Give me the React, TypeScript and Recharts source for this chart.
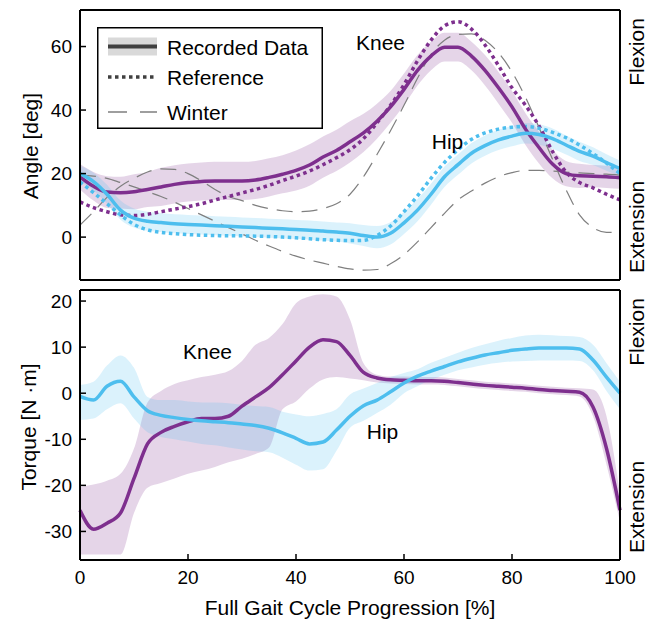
import { Area, ComposedChart, Line, XAxis, YAxis } from "recharts";

const PURPLE = "#7E2F8E";
const BLUE = "#4DBEEE";
const GREY = "#7f7f7f";

// gait cycle, percent
const pct = [0, 2.5, 5, 7.5, 10, 12.5, 15, 17.5, 20, 22.5, 25, 27.5, 30, 32.5, 35, 37.5, 40, 42.5, 45, 47.5, 50, 52.5, 55, 57.5, 60, 62.5, 65, 67.5, 70, 72.5, 75, 77.5, 80, 82.5, 85, 87.5, 90, 92.5, 95, 97.5, 100];

// joint angles [deg]
const kneeAngle = [19, 16, 14.2, 14, 14.3, 15, 15.8, 16.6, 17.2, 17.5, 17.7, 17.7, 17.7, 18, 18.8, 19.8, 21, 22.7, 25.2, 27.3, 30, 32.8, 36.5, 41, 46.5, 52.5, 57, 59.8, 59.8, 57, 52.5, 47, 41, 34, 28.2, 23, 20, 19.3, 19.2, 19, 18.7];
const kneeAngleSd = [4, 4.5, 5, 5, 5.5, 5.5, 6, 6, 6, 6, 6, 6, 6, 6, 6, 6, 6.3, 6.5, 6.5, 6.5, 6.5, 6, 5.5, 5, 5, 4.8, 4.5, 4.5, 4.5, 4.5, 4.8, 5, 5, 5, 5, 4.5, 4, 3.8, 3.5, 3.5, 3.5];
const kneeAngleRef = [11.1, 9.3, 8, 7, 6.8, 7.2, 8, 8.8, 9.6, 10.5, 11.7, 12.8, 13.9, 15, 16.3, 17.8, 19.2, 20.8, 22.8, 25, 27.5, 31, 36, 41.5, 48, 55.5, 62, 66.5, 67.8, 65.5, 60.5, 54, 47, 41.5, 35, 27, 20.5, 17.2, 15.5, 13.5, 11.7];
const kneeAngleWinter = [3.8, 8, 12.5, 16, 18.5, 20.5, 21.5, 21.3, 20, 17.7, 15, 12.8, 11.5, 10, 9, 8.3, 8, 8.2, 9, 10.5, 13.5, 19, 26, 33.5, 41.5, 50, 57.5, 62, 63.8, 64, 62, 58, 52, 44, 34.5, 24.5, 15, 7, 3, 1.5, 1.6];
const hipAngle = [20, 17.5, 13.5, 8.5, 6, 5, 4.6, 4.2, 4, 3.8, 3.6, 3.4, 3.2, 3, 2.8, 2.6, 2.4, 2.2, 1.9, 1.6, 1.2, 0.5, 0, 1.2, 4.5, 8.5, 13.5, 19, 22.8, 26.4, 28.8, 30.6, 31.8, 32.7, 32.3, 31, 29, 27, 25.5, 23.5, 21.6];
const hipAngleSd = [2.5, 2.8, 3, 3, 3, 3, 3, 3, 3, 3, 3, 3, 3, 3, 3, 3, 3, 3, 3, 3, 3.2, 3.3, 3.5, 3.5, 3.5, 3.5, 3.3, 3.2, 3.2, 3.2, 3.2, 3.2, 3.2, 3.2, 3.2, 3.2, 3, 3, 2.8, 2.6, 2.5];
const hipAngleRef = [17.4, 14, 10.5, 7, 4, 2.3, 1.5, 1.1, 0.8, 0.6, 0.5, 0.4, 0.4, 0.3, 0.2, 0, -0.2, -0.5, -0.8, -1, -1.1, -1, 0.5, 3.5, 8, 13, 18.5, 23.5, 27.5, 30.8, 32.8, 34, 34.6, 34.8, 34.3, 33, 31.3, 29, 26.3, 23.3, 20];
const hipAngleWinter = [19.5, 19.2, 18.5, 17.2, 15.8, 14.3, 12.8, 11, 9, 7, 5, 3, 1, -1, -2.8, -4.5, -6, -7.2, -8.2, -9.2, -10, -10.4, -10.2, -8.4, -5.5, -1.5, 3, 7.5, 11.7, 14.5, 17, 19, 20.3, 21, 21, 20.8, 20.5, 20.2, 20, 19.8, 19.5];

// joint torques [N·m]
const kneeTorque = [-25.4, -29.5, -28.2, -26, -18.5, -11, -8.5, -7.2, -6.2, -5.5, -5.5, -5, -2.8, -0.8, 1.2, 4, 7, 10, 11.6, 11.2, 8.2, 4.5, 3.3, 2.9, 2.8, 2.7, 2.7, 2.6, 2.3, 2, 1.7, 1.5, 1.3, 1.1, 0.8, 0.6, 0.4, 0.2, -3, -12, -25.4];
const kneeTorqueLo = [-35, -35, -35, -35, -26, -20.5, -19.5, -18.5, -17.5, -16.8, -16, -15, -14.2, -13.2, -11.8, -3.5, -1.8, 1, 3, 3.5, 3.2, 2.8, 2.3, 2.1, 2, 1.9, 1.9, 1.8, 1.5, 1.2, 0.9, 0.7, 0.5, 0.3, 0, -0.2, -0.4, -0.7, -5, -15.5, -28];
const kneeTorqueHi = [-20.3, -19.8, -19, -17.5, -12, -2, 0.5, 2, 2.8, 3.5, 4, 4.8, 7, 10.5, 12, 15, 19.5, 21, 21.5, 21, 16, 6.5, 4, 3.6, 3.6, 3.5, 3.5, 3.4, 3.1, 2.8, 2.5, 2.3, 2.1, 1.9, 1.6, 1.4, 1.2, 1.1, 0.8, -5, -22];
const hipTorque = [-0.7, -1.5, 1.5, 2.6, -0.8, -3.8, -4.8, -5.3, -5.7, -6, -6.2, -6.4, -6.7, -7, -7.6, -8.6, -9.8, -11, -10.6, -8, -5, -2.7, -1.5, 0.3, 2.2, 3.7, 4.8, 5.8, 6.8, 7.6, 8.3, 8.8, 9.3, 9.6, 9.8, 9.8, 9.8, 9.6, 7.2, 3.5, 0];
const hipTorqueLo = [-5.8, -5.5, -3.5, -2.2, -5.5, -8.5, -9.5, -10, -10.5, -11, -11.3, -11.8, -12.2, -12.6, -12.8, -14, -15.5, -16.8, -16.5, -12.5, -7.5, -6, -4.3, -2.5, 0, 1.5, 2.9, 4, 5, 5.6, 6.2, 6.6, 6.9, 7, 7.1, 7.1, 7.1, 7, 5, 0.5, -3.5];
const hipTorqueHi = [1.8, 2.5, 6, 8.2, 5.5, -0.8, -1.5, -1.5, -1.8, -2, -2, -2.2, -2.5, -2.8, -3, -4, -4.6, -5, -4.5, -3.5, -0.3, 1, 2.2, 3.5, 4.4, 5.2, 6.6, 7.7, 8.8, 9.8, 10.6, 11.4, 12, 12.5, 12.7, 12.6, 12.4, 12.2, 10.5, 6.5, 2.5];

const xTicks = [0, 20, 40, 60, 80, 100];
const angleTicks = [0, 20, 40, 60];
const torqueTicks = [-30, -20, -10, 0, 10, 20];

const angleRows = pct.map((x, i) => ({
  x,
  kneeRec: kneeAngle[i],
  kneeRef: kneeAngleRef[i],
  kneeWin: kneeAngleWinter[i],
  hipRec: hipAngle[i],
  hipRef: hipAngleRef[i],
  hipWin: hipAngleWinter[i],
  kneeBand: [kneeAngle[i] - kneeAngleSd[i], kneeAngle[i] + kneeAngleSd[i]],
  hipBand: [hipAngle[i] - hipAngleSd[i], hipAngle[i] + hipAngleSd[i]],
}));

const torqueRows = pct.map((x, i) => ({
  x,
  knee: kneeTorque[i],
  hip: hipTorque[i],
  kneeBand: [kneeTorqueLo[i], kneeTorqueHi[i]],
  hipBand: [hipTorqueLo[i], hipTorqueHi[i]],
}));

const FONT = "'Liberation Sans', Arial, sans-serif";
const axisLine = { stroke: "#000", strokeWidth: 2 };
const tickLine = { stroke: "#000", strokeWidth: 1.5 };
const tickFont = { fill: "#000", fontSize: 19 };

function Txt({ x, y, children, rotate = false }: { x: number; y: number; children: string; rotate?: boolean }) {
  return (
    <div
      style={{
        position: "absolute",
        left: x,
        top: y,
        fontSize: 21,
        lineHeight: "21px",
        whiteSpace: "nowrap",
        color: "#000",
        transform: `translate(-50%, -50%)${rotate ? " rotate(-90deg)" : ""}`,
      }}
    >
      {children}
    </div>
  );
}

function LegendBox() {
  return (
    <svg width={226} height={102} style={{ position: "absolute", left: 97, top: 27 }}>
      <rect x={0.75} y={0.75} width={224.5} height={100.5} fill="#fff" stroke="#000" strokeWidth={1.5} />
      <rect x={11} y={10.5} width={49} height={18} fill="#d9d9d9" />
      <line x1={11} x2={60} y1={19.5} y2={19.5} stroke="#404040" strokeWidth={4} />
      <line x1={11} x2={60} y1={50} y2={50} stroke="#404040" strokeWidth={3.5} strokeDasharray="3.5 3.5" />
      <line x1={11} x2={60} y1={85} y2={85} stroke={GREY} strokeWidth={1.3} strokeDasharray="19 13" />
      <g fontSize={21} fill="#000">
        <text x={70} y={20.5} dominantBaseline="central">Recorded Data</text>
        <text x={70} y={50.5} dominantBaseline="central">Reference</text>
        <text x={70} y={85} dominantBaseline="central">Winter</text>
      </g>
    </svg>
  );
}

export default function App() {
  return (
    <div style={{ position: "absolute", left: 0, top: 0, width: 662, height: 619, background: "#fff", fontFamily: FONT }}>
      <div style={{ position: "absolute", left: 0, top: 0 }}>
        <ComposedChart width={662} height={290} data={angleRows} margin={{ top: 9, right: 41, bottom: 9, left: 0 }}>
          <XAxis dataKey="x" type="number" domain={[0, 100]} ticks={xTicks} interval={0} height={1} tick={false} tickSize={-6} axisLine={axisLine} tickLine={tickLine} />
          <XAxis xAxisId="top" orientation="top" dataKey="x" type="number" domain={[0, 100]} ticks={xTicks} interval={0} height={1} tick={false} tickSize={-6} axisLine={axisLine} tickLine={tickLine} />
          <YAxis type="number" domain={[-13.5, 71.5]} allowDataOverflow ticks={angleTicks} interval={0} width={80} tick={tickFont} tickSize={-6} tickMargin={14} axisLine={axisLine} tickLine={tickLine} />
          <YAxis yAxisId="right" orientation="right" type="number" domain={[-13.5, 71.5]} allowDataOverflow ticks={angleTicks} interval={0} width={1} tick={false} tickSize={-6} axisLine={axisLine} tickLine={tickLine} />
          <Area dataKey="kneeBand" type="monotone" stroke="none" fill={PURPLE} fillOpacity={0.2} isAnimationActive={false} />
          <Area dataKey="hipBand" type="monotone" stroke="none" fill={BLUE} fillOpacity={0.2} isAnimationActive={false} />
          <Line dataKey="kneeWin" type="monotone" stroke={GREY} strokeWidth={1.2} strokeDasharray="16 9" dot={false} activeDot={false} isAnimationActive={false} />
          <Line dataKey="hipWin" type="monotone" stroke={GREY} strokeWidth={1.2} strokeDasharray="16 9" dot={false} activeDot={false} isAnimationActive={false} />
          <Line dataKey="kneeRef" type="monotone" stroke={PURPLE} strokeWidth={3.5} strokeDasharray="3.5 3.5" dot={false} activeDot={false} isAnimationActive={false} />
          <Line dataKey="hipRef" type="monotone" stroke={BLUE} strokeWidth={3.5} strokeDasharray="3.5 3.5" dot={false} activeDot={false} isAnimationActive={false} />
          <Line dataKey="kneeRec" type="monotone" stroke={PURPLE} strokeWidth={3.5} dot={false} activeDot={false} isAnimationActive={false} />
          <Line dataKey="hipRec" type="monotone" stroke={BLUE} strokeWidth={3.5} dot={false} activeDot={false} isAnimationActive={false} />
        </ComposedChart>
      </div>
      <div style={{ position: "absolute", left: 0, top: 280 }}>
        <ComposedChart width={662} height={339} data={torqueRows} margin={{ top: 9, right: 41, bottom: 0, left: 0 }}>
          <XAxis dataKey="x" type="number" domain={[0, 100]} ticks={xTicks} interval={0} height={59} tick={tickFont} tickSize={-6} tickMargin={17} axisLine={axisLine} tickLine={tickLine} />
          <XAxis xAxisId="top" orientation="top" dataKey="x" type="number" domain={[0, 100]} ticks={xTicks} interval={0} height={1} tick={false} tickSize={-6} axisLine={axisLine} tickLine={tickLine} />
          <YAxis type="number" domain={[-36.2, 22.4]} allowDataOverflow ticks={torqueTicks} interval={0} width={80} tick={tickFont} tickSize={-6} tickMargin={14} axisLine={axisLine} tickLine={tickLine} />
          <YAxis yAxisId="right" orientation="right" type="number" domain={[-36.2, 22.4]} allowDataOverflow ticks={torqueTicks} interval={0} width={1} tick={false} tickSize={-6} axisLine={axisLine} tickLine={tickLine} />
          <Area dataKey="kneeBand" type="monotone" stroke="none" fill={PURPLE} fillOpacity={0.2} isAnimationActive={false} />
          <Area dataKey="hipBand" type="monotone" stroke="none" fill={BLUE} fillOpacity={0.2} isAnimationActive={false} />
          <Line dataKey="knee" type="monotone" stroke={PURPLE} strokeWidth={3.5} dot={false} activeDot={false} isAnimationActive={false} />
          <Line dataKey="hip" type="monotone" stroke={BLUE} strokeWidth={3.5} dot={false} activeDot={false} isAnimationActive={false} />
        </ComposedChart>
      </div>

      <LegendBox />
      <Txt x={380.5} y={42}>Knee</Txt>
      <Txt x={447.5} y={141}>Hip</Txt>
      <Txt x={207.5} y={351}>Knee</Txt>
      <Txt x={382.5} y={431}>Hip</Txt>

      <Txt x={30} y={146} rotate>Angle [deg]</Txt>
      <Txt x={28} y={427} rotate>Torque [N ·m]</Txt>
      <Txt x={636} y={52} rotate>Flexion</Txt>
      <Txt x={636} y={227} rotate>Extension</Txt>
      <Txt x={636} y={332} rotate>Flexion</Txt>
      <Txt x={636} y={507} rotate>Extension</Txt>
      <Txt x={350} y={607}>Full Gait Cycle Progression [%]</Txt>
    </div>
  );
}
